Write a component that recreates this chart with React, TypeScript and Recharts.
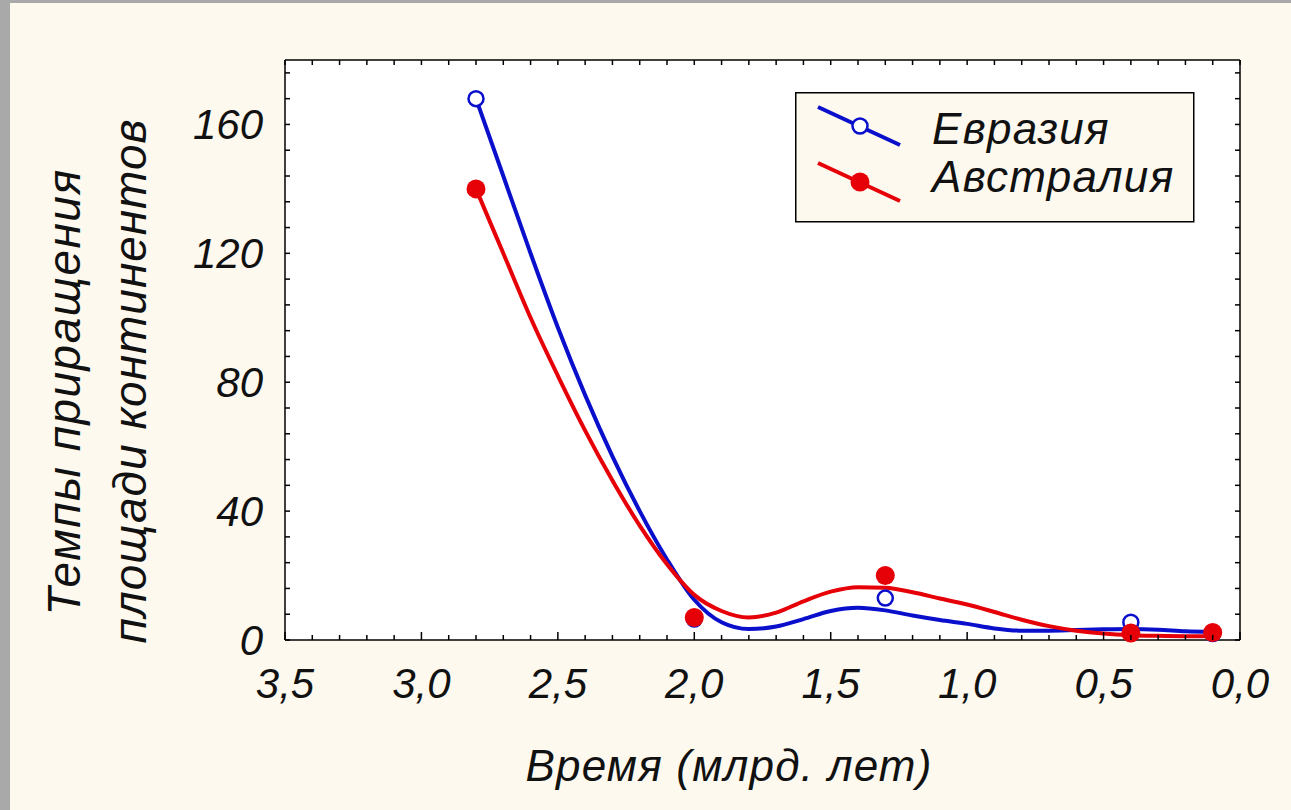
import { ComposedChart, Line, Scatter, XAxis, YAxis, CartesianGrid, Legend } from "recharts";

// measured points
const pointTimes = [2.8, 2.0, 1.3, 0.4, 0.1];
const eurasiaPoints = [168, 6.5, 13, 5.5, 2];
const australiaPoints = [140, 7, 20, 2.2, 2.3];

// fitted curves
const curveTimes = [2.8, 2.7, 2.6, 2.5, 2.4, 2.3, 2.2, 2.1, 2.0, 1.9, 1.8, 1.7, 1.6, 1.5, 1.4, 1.3, 1.2, 1.1, 1.0, 0.9, 0.8, 0.7, 0.6, 0.5, 0.4, 0.3, 0.2, 0.1];
const eurasiaFit = [168, 144, 120, 97, 76, 57, 40, 25, 12.5, 5.5, 3.4, 4.2, 6.5, 9, 10, 9.2, 7.6, 6.2, 5.0, 3.6, 2.9, 2.9, 3.1, 3.3, 3.4, 3.2, 2.7, 2.5];
const australiaFit = [140, 120, 100, 82, 65, 49.5, 35.5, 23.5, 14, 9, 7, 8.5, 12, 15, 16.4, 16.2, 14.8, 12.9, 11, 8.7, 6.3, 4.3, 2.9, 2.0, 1.5, 1.3, 1.2, 1.2];

const seriesNames = ["Евразия", "Австралия"];
const xTitle = "Время (млрд. лет)";
const yTitle = ["Темпы приращения", "площади континентов"];

const xTicks = Array.from({ length: 36 }, (_, i) => i / 10);
const yTicks = Array.from({ length: 23 }, (_, i) => i * 8);

const BLUE = "#0a0fcc";
const RED = "#e60008";
const FONT = "'Liberation Sans', Arial, sans-serif";

const toPoints = (xs: number[], ys: number[]) => xs.map((x, i) => ({ x, y: ys[i] }));

const eurasiaCurve = toPoints(curveTimes, eurasiaFit);
const australiaCurve = toPoints(curveTimes, australiaFit);
const eurasiaDots = toPoints(pointTimes, eurasiaPoints);
const australiaDots = toPoints(pointTimes, australiaPoints);

const isMajorX = (v: number) => Math.abs(v * 2 - Math.round(v * 2)) < 1e-6;
const fmtX = (v: number) => v.toFixed(1).replace(".", ",");

const textStyle = { fontFamily: FONT, fontStyle: "italic" as const, fill: "#111" };

const BottomTick = (props: any) => {
  const { x, y, payload } = props;
  const major = isMajorX(payload.value);
  return (
    <g>
      <line x1={x} x2={x} y1={y} y2={y - (major ? 8 : 5)} stroke="#000" strokeWidth={1.5} />
      {major && (
        <text x={x} y={y + 58} textAnchor="middle" fontSize={42} {...textStyle}>
          {fmtX(payload.value)}
        </text>
      )}
    </g>
  );
};

const TopTick = (props: any) => {
  const { x, y } = props;
  return <line x1={x} x2={x} y1={y} y2={y + 5} stroke="#000" strokeWidth={1.5} />;
};

const LeftTick = (props: any) => {
  const { x, y, payload } = props;
  const major = payload.value % 40 === 0;
  return (
    <g>
      <line x1={x} x2={x + 5} y1={y} y2={y} stroke="#000" strokeWidth={1.5} />
      {major && (
        <text x={x - 22} y={y + 15} textAnchor="end" fontSize={42} {...textStyle}>
          {payload.value}
        </text>
      )}
    </g>
  );
};

const RightTick = (props: any) => {
  const { x, y } = props;
  return <line x1={x} x2={x - 5} y1={y} y2={y} stroke="#000" strokeWidth={1.5} />;
};

const OpenCircle = (props: any) => (
  <circle cx={props.cx} cy={props.cy} r={7.5} fill="#fff" stroke={BLUE} strokeWidth={2.5} />
);

const FilledCircle = (props: any) => (
  <circle cx={props.cx} cy={props.cy} r={9.5} fill={RED} />
);

const renderYTitle = () => (
  <g>
    <text transform="translate(80,392) rotate(-90)" textAnchor="middle" fontSize={46} letterSpacing={1.5} {...textStyle}>
      {yTitle[0]}
    </text>
    <text transform="translate(146,381) rotate(-90)" textAnchor="middle" fontSize={46} letterSpacing={1} {...textStyle}>
      {yTitle[1]}
    </text>
  </g>
);

const renderXTitle = () => (
  <text x={729} y={781} textAnchor="middle" fontSize={44} letterSpacing={1.2} {...textStyle}>
    {xTitle}
  </text>
);

const LegendBox = () => (
  <svg width={400} height={131} style={{ display: "block" }}>
    <rect x={0.75} y={0.75} width={398} height={129} fill="#fdf9ef" stroke="#000" strokeWidth={1.5} />
    <line x1={23} y1={15} x2={105} y2={53} stroke={BLUE} strokeWidth={4} />
    <circle cx={65} cy={34} r={7.5} fill="#fff" stroke={BLUE} strokeWidth={2.5} />
    <text x={137} y={52} fontSize={44} letterSpacing={1.3} {...textStyle}>{seriesNames[0]}</text>
    <line x1={23} y1={71} x2={105} y2={109} stroke={RED} strokeWidth={4} />
    <circle cx={65} cy={90} r={9.5} fill={RED} />
    <text x={137} y={100} fontSize={44} letterSpacing={1.3} {...textStyle}>{seriesNames[1]}</text>
  </svg>
);

export default function App() {
  return (
    <div style={{ position: "absolute", left: 0, top: 0, width: 1291, height: 810, background: "#a9a9a9", overflow: "hidden" }}>
      <div style={{ position: "absolute", left: 10, top: 3, right: 0, bottom: 0, background: "#fdf9ef" }} />
      <div style={{ position: "absolute", left: 0, top: 0 }}>
        <ComposedChart width={1291} height={810} margin={{ top: 59, right: 50, bottom: 70, left: 165 }}>
          <CartesianGrid xAxisId="b" yAxisId="l" horizontal={false} vertical={false} fill="#ffffff" />
          <XAxis
            xAxisId="b"
            type="number"
            dataKey="x"
            domain={[0, 3.5]}
            reversed
            ticks={xTicks}
            interval={0}
            tick={<BottomTick />}
            tickLine={false}
            tickSize={0}
            tickMargin={0}
            height={100}
            axisLine={{ stroke: "#000", strokeWidth: 1.5 }}
            label={{ content: renderXTitle }}
          />
          <XAxis
            xAxisId="t"
            orientation="top"
            type="number"
            dataKey="x"
            domain={[0, 3.5]}
            reversed
            ticks={xTicks}
            interval={0}
            tick={<TopTick />}
            tickLine={false}
            tickSize={0}
            tickMargin={0}
            height={1}
            axisLine={{ stroke: "#000", strokeWidth: 1.5 }}
          />
          <YAxis
            yAxisId="l"
            type="number"
            dataKey="y"
            domain={[0, 180]}
            ticks={yTicks}
            interval={0}
            tick={<LeftTick />}
            tickLine={false}
            tickSize={0}
            tickMargin={0}
            width={120}
            axisLine={{ stroke: "#000", strokeWidth: 1.5 }}
            label={{ content: renderYTitle }}
          />
          <YAxis
            yAxisId="r"
            orientation="right"
            type="number"
            dataKey="y"
            domain={[0, 180]}
            ticks={yTicks}
            interval={0}
            tick={<RightTick />}
            tickLine={false}
            tickSize={0}
            tickMargin={0}
            width={1}
            axisLine={{ stroke: "#000", strokeWidth: 1.5 }}
          />
          {/* invisible series so the frame axes (top/right) are in use */}
          <Line
            xAxisId="t"
            yAxisId="r"
            data={eurasiaCurve}
            dataKey="y"
            stroke="none"
            dot={false}
            activeDot={false}
            legendType="none"
            isAnimationActive={false}
          />
          <Line
            xAxisId="b"
            yAxisId="l"
            data={eurasiaCurve}
            dataKey="y"
            name={seriesNames[0]}
            type="monotone"
            stroke={BLUE}
            strokeWidth={4}
            dot={false}
            activeDot={false}
            legendType="none"
            isAnimationActive={false}
          />
          <Line
            xAxisId="b"
            yAxisId="l"
            data={australiaCurve}
            dataKey="y"
            name={seriesNames[1]}
            type="monotone"
            stroke={RED}
            strokeWidth={4}
            dot={false}
            activeDot={false}
            legendType="none"
            isAnimationActive={false}
          />
          <Scatter
            xAxisId="b"
            yAxisId="l"
            data={eurasiaDots}
            dataKey="y"
            name={seriesNames[0]}
            shape={OpenCircle}
            legendType="none"
            isAnimationActive={false}
          />
          <Scatter
            xAxisId="b"
            yAxisId="l"
            data={australiaDots}
            dataKey="y"
            name={seriesNames[1]}
            shape={FilledCircle}
            legendType="none"
            isAnimationActive={false}
          />
          <Legend
            layout="vertical"
            align="center"
            verticalAlign="middle"
            content={() => <LegendBox />}
            wrapperStyle={{ position: "absolute", left: 795, top: 92, width: 400, height: 131 }}
          />
        </ComposedChart>
      </div>
    </div>
  );
}
